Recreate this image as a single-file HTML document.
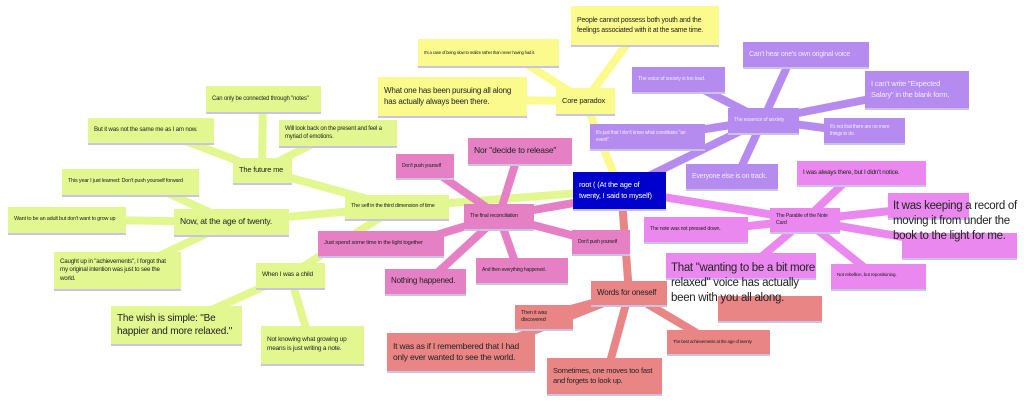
<!DOCTYPE html>
<html><head><meta charset="utf-8"><style>
body{margin:0;width:1024px;height:405px;background:#fff;position:relative;overflow:hidden;font-family:"Liberation Sans",sans-serif}
.n{position:absolute;box-sizing:border-box;padding:3px 6px;font-size:6.5px;line-height:1.35;color:#222;box-shadow:0 2px 0 #c9c3e6;display:flex;align-items:center;letter-spacing:-0.2px}
.s{white-space:nowrap}
.g{background:#e2f78f}.y{background:#fbfa8d}.p{background:#b58bf0;color:#f2eaff}.m{background:#eb88ef}.r{background:#e680c4}.d{background:#ea8585}
.L{font-size:10px}
.big{position:absolute;font-size:11.5px;line-height:15px;color:#222;letter-spacing:-0.3px}
svg{position:absolute;left:0;top:0}
</style></head><body>
<svg width="1024" height="405">
<g stroke-linecap="butt">
<g stroke="#e2f78f" stroke-width="8">
<line x1="620" y1="190" x2="397" y2="207"/>
<line x1="397" y1="207" x2="262" y2="170"/><line x1="397" y1="207" x2="231" y2="222"/><line x1="397" y1="207" x2="290" y2="275"/>
<line x1="262" y1="170" x2="263" y2="99"/><line x1="262" y1="170" x2="170" y2="135"/><line x1="262" y1="170" x2="320" y2="140"/>
<line x1="231" y1="222" x2="150" y2="185"/><line x1="231" y1="222" x2="100" y2="220"/><line x1="231" y1="222" x2="140" y2="265"/>
<line x1="290" y1="275" x2="200" y2="315"/><line x1="290" y1="275" x2="308" y2="335"/>
</g>
<g stroke="#fbfa8d" stroke-width="8">
<line x1="620" y1="190" x2="585" y2="101"/>
<line x1="585" y1="101" x2="630" y2="40"/><line x1="585" y1="101" x2="520" y2="60"/><line x1="585" y1="101" x2="500" y2="100"/>
</g>
<g stroke="#b58bf0" stroke-width="8">
<line x1="620" y1="190" x2="763" y2="120"/>
<line x1="763" y1="120" x2="790" y2="60"/><line x1="763" y1="120" x2="700" y2="88"/><line x1="763" y1="120" x2="880" y2="97"/><line x1="763" y1="120" x2="840" y2="130"/><line x1="763" y1="120" x2="680" y2="133"/><line x1="763" y1="120" x2="740" y2="170"/>
</g>
<g stroke="#eb88ef" stroke-width="8">
<line x1="620" y1="190" x2="805" y2="220"/>
<line x1="805" y1="220" x2="845" y2="182"/><line x1="805" y1="220" x2="900" y2="210"/><line x1="805" y1="220" x2="920" y2="240"/><line x1="805" y1="220" x2="720" y2="229"/><line x1="805" y1="220" x2="760" y2="258"/><line x1="805" y1="220" x2="865" y2="268"/>
</g>
<g stroke="#e680c4" stroke-width="8">
<line x1="620" y1="195" x2="499" y2="216"/>
<line x1="499" y1="216" x2="518" y2="155"/><line x1="499" y1="216" x2="440" y2="175"/><line x1="499" y1="216" x2="420" y2="240"/><line x1="499" y1="216" x2="590" y2="240"/><line x1="499" y1="216" x2="435" y2="275"/><line x1="499" y1="216" x2="515" y2="262"/>
</g>
<g stroke="#ea8585" stroke-width="8">
<line x1="622" y1="200" x2="629" y2="293"/>
<line x1="629" y1="293" x2="560" y2="312"/><line x1="629" y1="293" x2="510" y2="340"/><line x1="629" y1="293" x2="610" y2="362"/><line x1="629" y1="293" x2="700" y2="335"/>
</g>
</g>
</svg>

<div class="n g s" style="left:206px;top:86px;width:115px;height:26px;font-size:6px">Can only be connected through "notes"</div>
<div class="n g s" style="left:88px;top:118px;width:126px;height:25px;font-size:6.2px">But it was not the same me as I am now.</div>
<div class="n g" style="left:279px;top:120px;width:118px;height:26px;font-size:6px">Will look back on the present and feel a myriad of emotions.</div>
<div class="n g s" style="left:233px;top:158px;width:59px;height:25px;font-size:7.5px">The future me</div>
<div class="n g s" style="left:62px;top:169px;width:137px;height:26px;font-size:5.5px">This year I just learned: Don't push yourself forward</div>
<div class="n g" style="left:8px;top:207px;width:118px;height:26px;font-size:5.5px">Want to be an adult but don't want to grow up</div>
<div class="n g s" style="left:174px;top:209px;width:115px;height:26px;font-size:8.5px">Now, at the age of twenty.</div>
<div class="n g s" style="left:345px;top:195px;width:104px;height:24px;font-size:5.5px">The self in the third dimension of time</div>
<div class="n g" style="left:54px;top:252px;width:127px;height:37px;font-size:6.2px">Caught up in "achievements", I forgot that my original intention was just to see the world.</div>
<div class="n g s" style="left:256px;top:263px;width:69px;height:25px;font-size:6.5px">When I was a child</div>
<div class="n g L" style="left:111px;top:306px;width:131px;height:38px">The wish is simple: "Be happier and more relaxed."</div>
<div class="n g" style="left:261px;top:326px;width:103px;height:38px;font-size:6.5px">Not knowing what growing up means is just writing a note.</div>

<div class="n y" style="left:571px;top:6px;width:148px;height:39px;font-size:7px">People cannot possess both youth and the feelings associated with it at the same time.</div>
<div class="n y s" style="left:418px;top:39px;width:141px;height:27px;font-size:4.3px">It's a case of being slow to realize rather than never having had it.</div>
<div class="n y" style="left:378px;top:77px;width:149px;height:39px;font-size:8px">What one has been pursuing all along has actually always been there.</div>
<div class="n y s" style="left:556px;top:88px;width:59px;height:26px;font-size:7.5px">Core paradox</div>

<div class="n p s" style="left:743px;top:42px;width:126px;height:25px;font-size:7px">Can't hear one's own original voice</div>
<div class="n p s" style="left:632px;top:67px;width:93px;height:25px;font-size:5.3px">The voice of society is too loud.</div>
<div class="n p" style="left:865px;top:71px;width:104px;height:37px;font-size:7.5px">I can't write "Expected Salary" in the blank form.</div>
<div class="n p s" style="left:728px;top:108px;width:71px;height:25px;font-size:5.3px">The essence of anxiety</div>
<div class="n p" style="left:824px;top:118px;width:81px;height:25px;font-size:5px">It's not that there are no more things to do.</div>
<div class="n p" style="left:590px;top:124px;width:115px;height:25px;font-size:5px">It's just that I don't know what constitutes "an event"</div>
<div class="n p s" style="left:686px;top:164px;width:92px;height:25px;font-size:7px">Everyone else is on track.</div>

<div class="n" style="left:573px;top:172px;width:93px;height:37px;background:#0000cc;color:#fff;font-size:7.5px">root ( (At the age of twenty, I said to myself)</div>

<div class="n m s" style="left:797px;top:161px;width:129px;height:24px;font-size:6.3px">I was always there, but I didn't notice.</div>
<div class="n m" style="left:888px;top:193px;width:81px;height:25px"></div>
<div class="n m" style="left:902px;top:233px;width:115px;height:25px"></div>
<div class="big" style="left:893px;top:199px;width:140px">It was keeping a record of<br>moving it from under the<br>book to the light for me.</div>
<div class="n m" style="left:770px;top:208px;width:70px;height:24px;font-size:5.3px">The Parable of the Note Card</div>
<div class="n m s" style="left:644px;top:217px;width:104px;height:25px;font-size:5.3px">The note was not pressed down.</div>
<div class="n d" style="left:718px;top:296px;width:104px;height:25px"></div>
<div class="n m" style="left:666px;top:253px;width:150px;height:25px"></div>
<div class="big" style="left:671px;top:261px;width:160px">That "wanting to be a bit more<br>relaxed" voice has actually<br>been with you all along.</div>
<div class="n m s" style="left:831px;top:264px;width:95px;height:25px;font-size:4.8px">Not rebellion, but repositioning.</div>

<div class="n r s" style="left:468px;top:138px;width:104px;height:26px;font-size:8.5px">Nor "decide to release"</div>
<div class="n r s" style="left:396px;top:154px;width:58px;height:24px;font-size:5px">Don't push yourself</div>
<div class="n r s" style="left:464px;top:204px;width:70px;height:25px;font-size:5.3px">The final reconciliation</div>
<div class="n r s" style="left:318px;top:231px;width:126px;height:25px;font-size:5.8px">Just spend some time in the light together</div>
<div class="n r s" style="left:572px;top:230px;width:58px;height:24px;font-size:5px">Don't push yourself</div>
<div class="n r s" style="left:385px;top:269px;width:81px;height:25px;font-size:8px">Nothing happened.</div>
<div class="n r s" style="left:476px;top:258px;width:92px;height:25px;font-size:5px">And then everything happened.</div>

<div class="n d s" style="left:591px;top:281px;width:76px;height:24px;font-size:8px">Words for oneself</div>
<div class="n d" style="left:515px;top:305px;width:58px;height:24px;font-size:5.5px">Then it was discovered</div>
<div class="n d" style="left:387px;top:333px;width:148px;height:38px;font-size:8.5px">It was as if I remembered that I had only ever wanted to see the world.</div>
<div class="n d" style="left:547px;top:358px;width:115px;height:36px;font-size:7.5px">Sometimes, one moves too fast and forgets to look up.</div>
<div class="n d" style="left:667px;top:330px;width:103px;height:24px;font-size:4.5px">The best achievements at the age of twenty</div>
</body></html>
